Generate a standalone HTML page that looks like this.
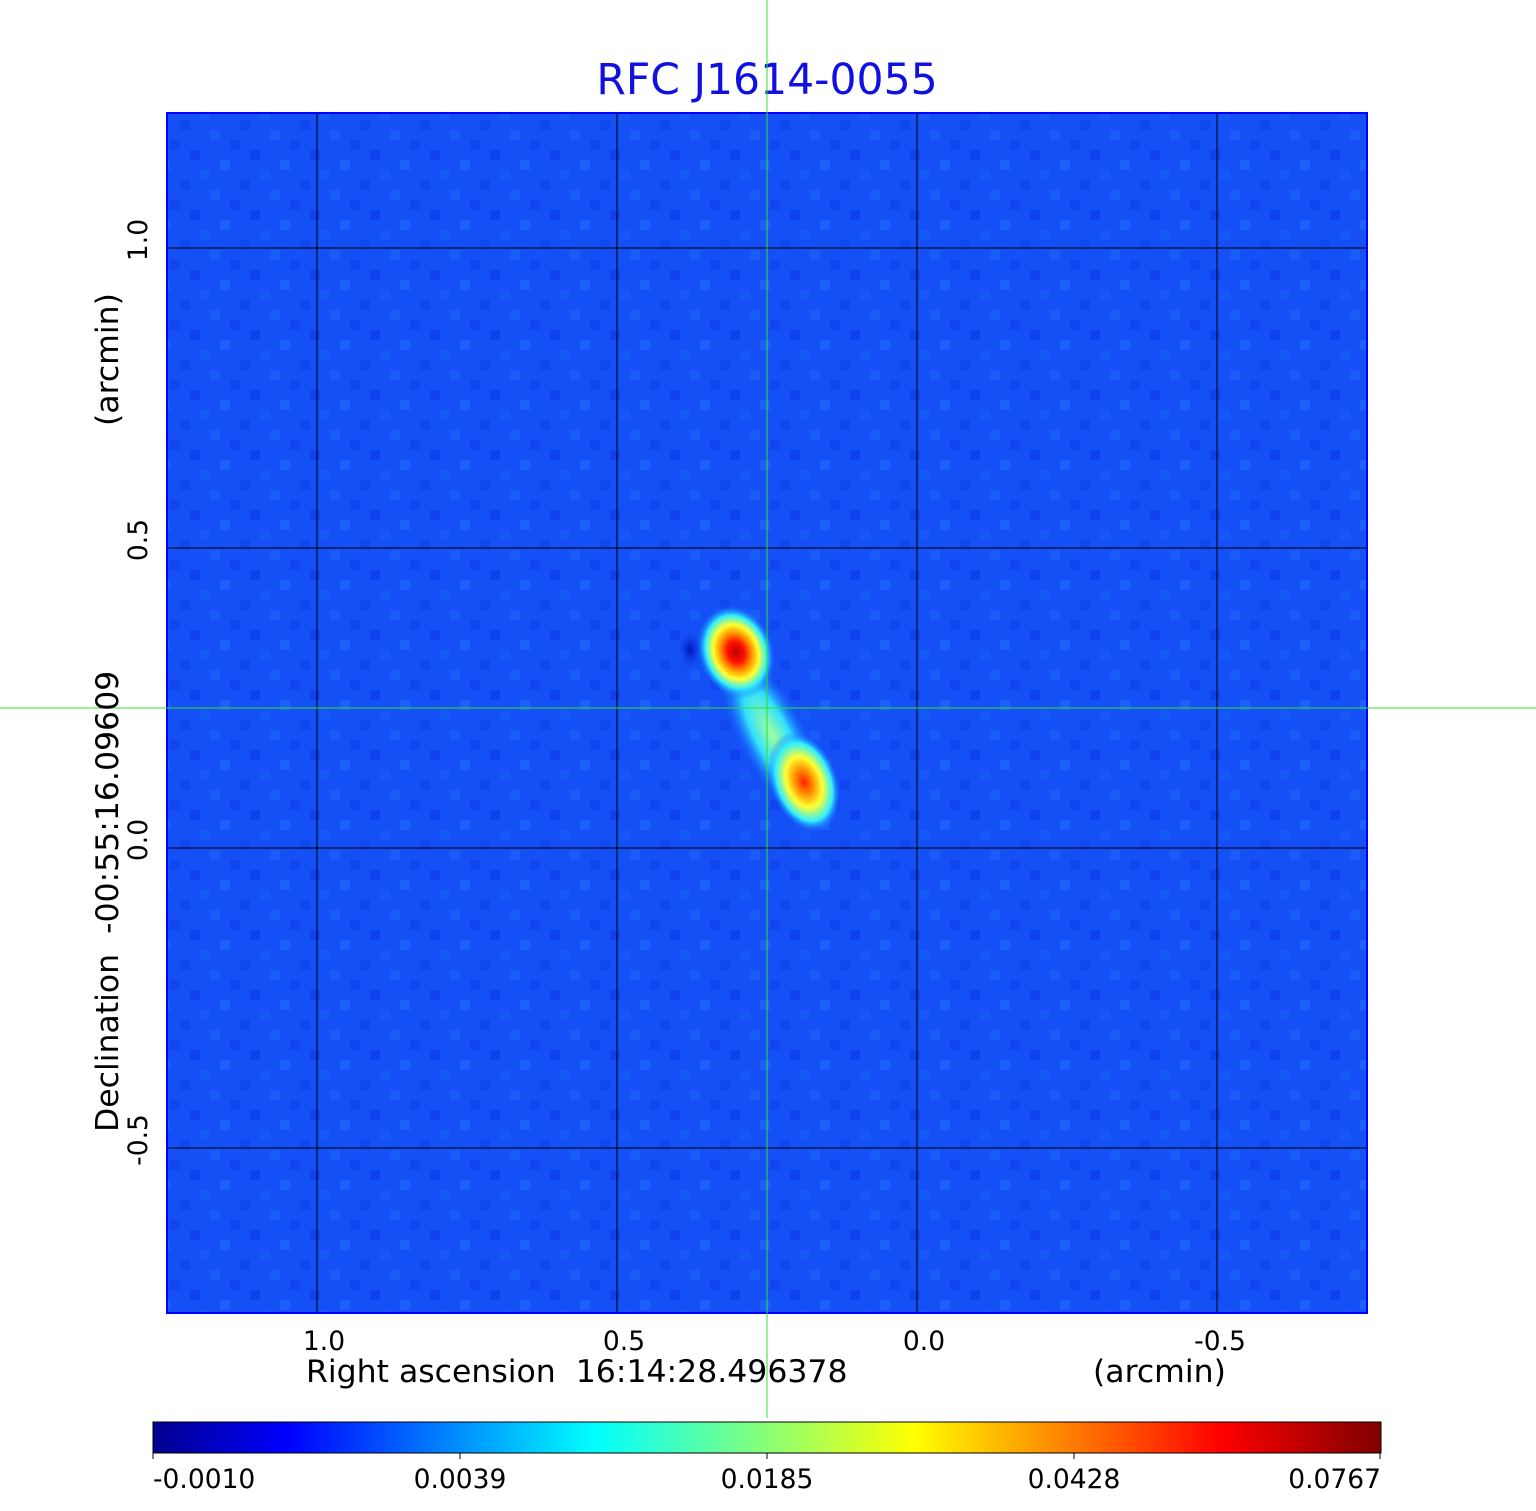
<!DOCTYPE html>
<html><head><style>body{margin:0;background:#fff}svg{display:block}</style></head>
<body>
<svg width="1536" height="1511" xmlns="http://www.w3.org/2000/svg" font-family="'DejaVu Sans','Liberation Sans',sans-serif" style="white-space:pre">
<defs>
<linearGradient id="jet" x1="0" x2="1" y1="0" y2="0">
<stop offset="0" stop-color="#00008f"/><stop offset="0.11" stop-color="#0000ff"/>
<stop offset="0.36" stop-color="#00ffff"/><stop offset="0.62" stop-color="#ffff00"/>
<stop offset="0.87" stop-color="#ff0000"/><stop offset="1" stop-color="#800000"/>
</linearGradient>
<radialGradient id="s1">
<stop offset="0" stop-color="#c00000"/><stop offset="0.22" stop-color="#ff1000"/>
<stop offset="0.42" stop-color="#ffa000"/><stop offset="0.58" stop-color="#ffff30"/>
<stop offset="0.78" stop-color="#30f0ff"/><stop offset="1" stop-color="#1060ff" stop-opacity="0"/>
</radialGradient>
<radialGradient id="s2">
<stop offset="0" stop-color="#ff2000"/><stop offset="0.25" stop-color="#ff9000"/>
<stop offset="0.5" stop-color="#ffff30"/><stop offset="0.78" stop-color="#30f0ff"/>
<stop offset="1" stop-color="#1060ff" stop-opacity="0"/>
</radialGradient>
<radialGradient id="br">
<stop offset="0" stop-color="#a0ffa0"/><stop offset="0.5" stop-color="#30e0ff"/>
<stop offset="1" stop-color="#1060ff" stop-opacity="0"/>
</radialGradient>
<radialGradient id="dk">
<stop offset="0" stop-color="#0010c0"/><stop offset="1" stop-color="#1450f5" stop-opacity="0"/>
</radialGradient>
<pattern id="noise" width="60" height="60" patternUnits="userSpaceOnUse">
<rect width="60" height="60" fill="#1450f5"/>
<rect x="0" y="0" width="10" height="10" fill="#1048f0"/><rect x="30" y="10" width="10" height="10" fill="#1a5cf8"/>
<rect x="10" y="30" width="10" height="10" fill="#0e42ee"/><rect x="40" y="40" width="10" height="10" fill="#1c60fa"/>
<rect x="20" y="50" width="10" height="10" fill="#1658f6"/><rect x="50" y="20" width="10" height="10" fill="#0f46ef"/>
</pattern>
</defs>
<text x="767" y="94" text-anchor="middle" font-size="42.5" fill="#1010e0">RFC J1614-0055</text>
<rect x="167" y="113" width="1200" height="1200" fill="url(#noise)"/>
<ellipse cx="690" cy="650" rx="14" ry="22" fill="url(#dk)"/>
<ellipse cx="772" cy="735" rx="34" ry="105" transform="rotate(-27 772 735)" fill="url(#br)"/>
<ellipse cx="736" cy="652" rx="38" ry="48" transform="rotate(-20 736 652)" fill="url(#s1)"/>
<ellipse cx="804" cy="782" rx="34" ry="52" transform="rotate(-20 804 782)" fill="url(#s2)"/>
<g stroke="#000" stroke-width="1">
<line x1="317" y1="113" x2="317" y2="1313"/><line x1="617" y1="113" x2="617" y2="1313"/>
<line x1="917" y1="113" x2="917" y2="1313"/><line x1="1217" y1="113" x2="1217" y2="1313"/>
<line x1="167" y1="248" x2="1367" y2="248"/><line x1="167" y1="548" x2="1367" y2="548"/>
<line x1="167" y1="848" x2="1367" y2="848"/><line x1="167" y1="1148" x2="1367" y2="1148"/>
</g>
<rect x="167" y="113" width="1200" height="1200" fill="none" stroke="#0000ff" stroke-width="2"/>
<line x1="767" y1="0" x2="767" y2="1418" stroke="#30e030" stroke-width="1"/>
<line x1="0" y1="708" x2="1536" y2="708" stroke="#30e030" stroke-width="1"/>
<g font-size="26.5" fill="#000" text-anchor="middle">
<text x="324" y="1350">1.0</text><text x="624" y="1350">0.5</text>
<text x="924" y="1350">0.0</text><text x="1220" y="1350">-0.5</text>
<text transform="translate(147 240) rotate(-90)">1.0</text>
<text transform="translate(147 540) rotate(-90)">0.5</text>
<text transform="translate(147 840) rotate(-90)">0.0</text>
<text transform="translate(147 1140) rotate(-90)">-0.5</text>
</g>
<g font-size="31.5" fill="#000">
<text x="306" y="1382">Right ascension&#160;&#160;16:14:28.496378</text>
<text x="1093" y="1382">(arcmin)</text>
<text transform="translate(118 1132) rotate(-90)">Declination&#160;&#160;-00:55:16.09609</text>
<text transform="translate(118 426) rotate(-90)">(arcmin)</text>
</g>
<rect x="153" y="1422" width="1228" height="31" fill="url(#jet)" stroke="#000" stroke-width="1"/>
<g stroke="#000"><line x1="153" y1="1453" x2="153" y2="1459"/><line x1="460" y1="1453" x2="460" y2="1459"/><line x1="767" y1="1453" x2="767" y2="1459"/><line x1="1074" y1="1453" x2="1074" y2="1459"/><line x1="1380" y1="1453" x2="1380" y2="1459"/></g>
<g font-size="26.5" fill="#000">
<text x="153" y="1488">-0.0010</text>
<text x="460" y="1488" text-anchor="middle">0.0039</text>
<text x="767" y="1488" text-anchor="middle">0.0185</text>
<text x="1074" y="1488" text-anchor="middle">0.0428</text>
<text x="1381" y="1488" text-anchor="end">0.0767</text>
</g>
</svg>
</body></html>
